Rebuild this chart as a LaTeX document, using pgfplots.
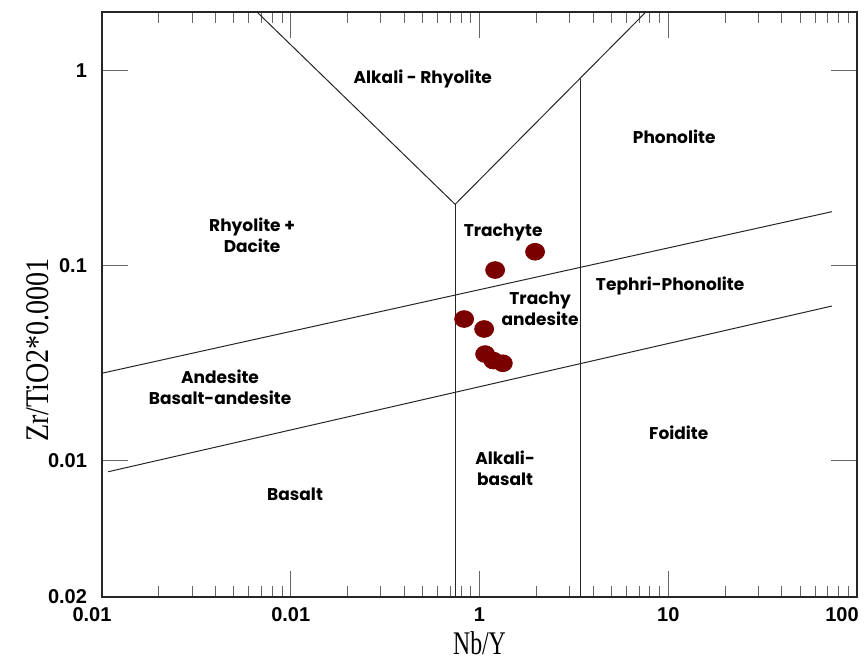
\documentclass[border=0pt]{standalone}
\usepackage{fontspec}
\usepackage{pgfplots}
\pgfplotsset{compat=1.18}
\newfontfamily\regionfont{Poppins}
\newfontfamily\tickfont{Liberation Sans}
\newfontfamily\labfont[FakeStretch=0.72]{Liberation Serif}
\newfontfamily\ylabfont[FakeStretch=0.85]{Liberation Serif}
\definecolor{ptred}{RGB}{122,0,0}
\tikzset{region/.style={font=\regionfont\bfseries\fontsize{8.5}{10.5}\selectfont, align=center, inner sep=0pt}}
\begin{document}
\begin{tikzpicture}
\begin{axis}[name=ax, xmode=log, ymode=log, scale only axis,
  width=377.5pt, height=292.5pt,
  xmin=0.01, xmax=100, ymin=0.002, ymax=2,
  xtick={0.01,0.1,1,10,100},
  xticklabels={{\hspace*{-10pt}0.01},0.01,1,10,{\hspace*{-15pt}100}},
  ytick={0.002,0.01,0.1,1}, yticklabels={0.02,0.01,0.1,1},
  tick align=inside, major tick length=13pt, minor tick length=5.5pt,
  every tick/.style={black!60, line width=0.5pt},
  axis line style={line width=0.8pt, black!85},
  ticklabel style={font=\tickfont\bfseries\fontsize{10}{12}\selectfont},
  xticklabel style={yshift=-2pt},
  yticklabel style={xshift=-4pt},
  /pgf/number format/assume math mode=true,
  xlabel={\labfont\fontsize{16.5}{18}\selectfont Nb/Y},
  xlabel style={at={(axis description cs:0.5,0)}, anchor=center, yshift=-23pt},
  ylabel={\ylabfont\fontsize{16.5}{18}\selectfont Zr/TiO2*0.0001},
  ylabel style={at={(axis description cs:-0.0848,0.422)}, anchor=center},
  clip=false,
]
% boundaries
\addplot[black!85, line width=0.5pt] coordinates {(0.066,2) (0.743,0.2057) (7.64,2)};
\addplot[black!85, line width=0.5pt] coordinates {(0.743,0.2057) (0.743,0.002)};
\addplot[black!85, line width=0.5pt] coordinates {(3.44,0.90) (3.44,0.002)};
\addplot[black!85, line width=0.5pt] coordinates {(0.01,0.028) (73.6,0.1886)};
\addplot[black!85, line width=0.5pt] coordinates {(0.0108,0.00875) (73.6,0.0619)};
% samples
\addplot[only marks, mark=*, mark size=4.2pt, mark options={xscale=1.13, fill=ptred, draw=ptred}] coordinates {
(1.970,0.1175) (1.21,0.0947) (0.829,0.0531) (1.058,0.0472) (1.071,0.0351) (1.185,0.0325) (1.329,0.0315)};
% labels
\node[region] at (axis cs:0.5006,0.90) {Alkali - Rhyolite};
\node[region] at (axis cs:10.75,0.4575) {Phonolite};
\node[region] at (axis cs:10.23,0.0784) {Tephri-Phonolite};
\node[region] at (axis cs:11.37,0.01382) {Foidite};
\node[region] at (axis cs:0.0624,0.1432) {Rhyolite +\\Dacite};
\node[region] at (axis cs:0.0422,0.02365) {Andesite\\Basalt-andesite};
\node[region] at (axis cs:0.1054,0.00672) {Basalt};
\node[region] at (axis cs:1.334,0.1484) {Trachyte};
\node[region] at (axis cs:2.095,0.0601) {Trachy\\andesite};
\node[region] at (axis cs:1.367,0.00909) {Alkali-\\basalt};
\end{axis}
\pgfresetboundingbox
\path (ax.south west) ++(-51pt,-32.15pt) rectangle ++(432.5pt,330.5pt);
\end{tikzpicture}
\end{document}
